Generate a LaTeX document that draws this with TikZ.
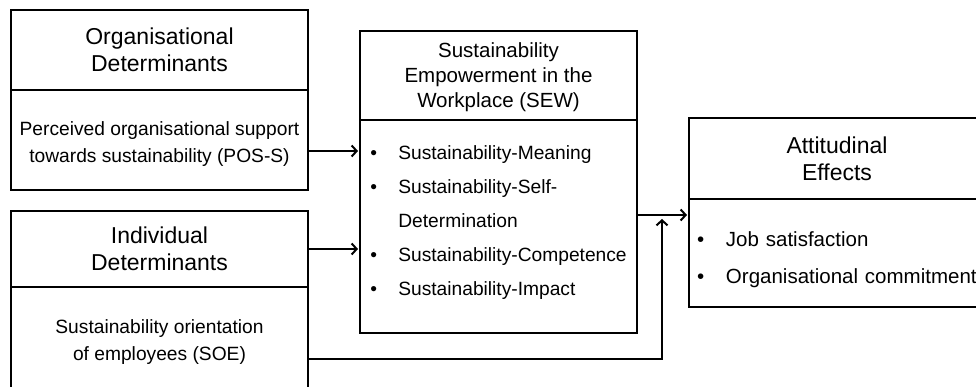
\documentclass[tikz,border=0pt]{standalone}
\usepackage{fontspec}
\setmainfont{Liberation Sans}
\usetikzlibrary{positioning, arrows.meta}

\tikzset{
  box/.style={draw, line width=2pt, outer sep=0pt, inner sep=0pt, align=center},
  headtxt/.style={font=\fontsize{23}{27}\selectfont},
  bodytxt/.style={font=\fontsize{19.2}{27}\selectfont},
  arr/.style={line width=2pt, -{Straight Barb[length=5pt,width=11pt,line width=2pt]}, shorten >=2pt}
}
\newcommand{\blt}[1][28pt]{\makebox[#1][l]{•}}

\begin{document}
\begin{tikzpicture}[x=1pt, y=-1pt]
\useasboundingbox (0,0) rectangle (976,387);
% determinants
\node[box, headtxt, minimum width=297pt, minimum height=80pt] (odTitle) at (159.5,50) {Organisational\\Determinants};
\node[box, bodytxt, minimum width=297pt, minimum height=100pt, below=0pt of odTitle] (odBody) {\rule{0pt}{21pt}Perceived organisational support\\towards sustainability (POS-S)};
\node[box, headtxt, minimum width=297pt, minimum height=76pt] (idTitle) at (159.5,249) {Individual\\Determinants};
\node[box, bodytxt, minimum width=297pt, minimum height=103pt, below=0pt of idTitle] (idBody) {\rule{0pt}{21pt}Sustainability orientation\\of employees (SOE)};
% SEW
\node[box, font=\fontsize{20.5}{25}\selectfont, minimum width=277pt, minimum height=89pt] (sewTitle) at (498.5,75.5) {\rule{0pt}{19pt}Sustainability\\Empowerment in the\\Workplace (SEW)};
\node[box, font=\fontsize{19.2}{34}\selectfont, minimum width=277pt, minimum height=213pt, below=0pt of sewTitle] (sewBody) {%
  \begin{tabular}{@{}l@{}}
  \blt Sustainability-Meaning\\
  \blt Sustainability-Self-\\
  \hspace*{28pt}Determination\\
  \blt Sustainability-Competence\\
  \blt Sustainability-Impact\\[12pt]
  \end{tabular}};
% effects
\node[box, headtxt, minimum width=296pt, minimum height=81pt] (aeTitle) at (837,158.5) {Attitudinal\\Effects};
\node[box, font=\fontsize{20.5}{37}\selectfont, minimum width=296pt, minimum height=108pt, below=0pt of aeTitle, inner xsep=8pt, text width=280pt, align=left] (aeBody) {%
  \begin{tabular}{@{}l@{}}
  \rule{0pt}{36pt}\blt[29pt]Job satisfaction\\
  \blt[29pt]Organisational commitment
  \end{tabular}};
\coordinate (join) at (662,215);
% connectors
\draw[arr] ([yshift=-11pt]odBody.east) -- ([yshift=-11pt]odBody.east -| sewBody.west);
\draw[arr] (idTitle.east) -- (idTitle.east -| sewBody.west);
\draw[arr] (sewBody.east |- join) -- (join -| aeBody.west);
\draw[arr, shorten >=4pt] ([yshift=-20pt]idBody.east) -| (join);
\end{tikzpicture}
\end{document}
